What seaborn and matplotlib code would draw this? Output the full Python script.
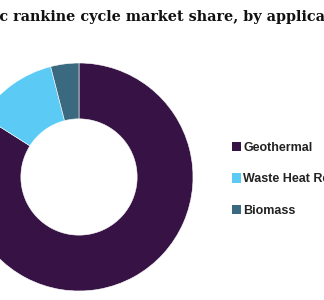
import matplotlib
matplotlib.use("Agg")
import matplotlib.pyplot as plt
from matplotlib.patches import Patch
import seaborn as sns

categories = ["Geothermal", "Waste Heat Recovery", "Biomass"]
shares = [84, 12, 4]
colors = ["#361245", "#5BCBF5", "#3B6A80"]
title = "Organic rankine cycle market share, by application, 2019 (%)"
hidden_prefix = "Organi"

sns.set_theme(style="white")
plt.rcParams["font.family"] = ["DejaVu Sans"]

fig = plt.figure(figsize=(3.24, 3.0), dpi=100)
fig.patch.set_facecolor("white")

ax = fig.add_axes([-35/324, 9/300, 228/324, 228/300])
ax.pie(shares, colors=colors, startangle=90, counterclock=False, radius=1,
       wedgeprops=dict(width=0.49, edgecolor="white", linewidth=0.4))
ax.set_xlim(-1, 1)
ax.set_ylim(-1, 1)
ax.set_aspect("equal")
ax.axis("off")

# title, cropped at the left like the reference
tfont = dict(family="DejaVu Serif", weight="bold", size=10.4)
renderer = fig.canvas.get_renderer()
tmp = fig.text(0, 0, hidden_prefix, **tfont)
pw = tmp.get_window_extent(renderer).width
tmp.remove()
fig.text(-pw / 324 - 1/324, 1 - 21/300, title, ha="left", va="baseline", color="#111111", **tfont)

handles = [Patch(facecolor=c, edgecolor="none") for c in colors]
labels = ["Geothermal", "Waste Heat Recovery", "Biomass"]
leg = fig.legend(handles, labels, loc="upper left", bbox_to_anchor=(232/324, 1 - 142/300),
                 frameon=False, handlelength=0.75, handleheight=0.75, handletextpad=0.15,
                 labelspacing=1.55, borderaxespad=0, borderpad=0,
                 prop=dict(family="Liberation Sans", weight="bold", size=9))
for t in leg.get_texts():
    t.set_color("#222222")

fig.savefig("out.png", dpi=100, facecolor="white")
